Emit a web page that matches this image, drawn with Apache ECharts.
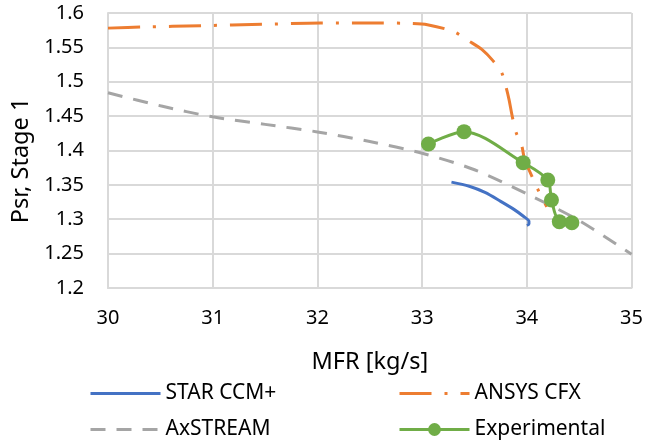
<!DOCTYPE html>
<html>
<head>
<meta charset="utf-8">
<script src="https://cdn.jsdelivr.net/npm/echarts@6/dist/echarts.min.js"></script>
<style>
  html, body { margin: 0; padding: 0; background: #fff; }
  #chart { width: 646px; height: 442px; }
</style>
</head>
<body>
<div id="chart"></div>
<script>
// values
const starX = [33.28, 33.45, 33.6, 33.75, 33.88, 33.97, 34.02, 34.02, 34.0];
const starY = [1.354, 1.348, 1.339, 1.326, 1.314, 1.304, 1.297, 1.293, 1.291];

const cfxX = [30, 30.33, 30.9, 31.47, 32.03, 32.62, 32.9, 33.05, 33.3, 33.45, 33.57, 33.68, 33.76, 33.8, 33.83, 33.86, 33.9, 33.95, 33.98, 34.02, 34.1, 34.19];
const cfxY = [1.578, 1.5796, 1.5816, 1.5835, 1.5855, 1.5855, 1.5848, 1.583, 1.573, 1.559, 1.547, 1.530, 1.513, 1.493, 1.474, 1.45, 1.425, 1.408, 1.385, 1.372, 1.345, 1.318];

const axX = [30, 30.5, 31, 31.5, 32, 32.5, 33, 33.5, 34, 34.5, 35];
const axY = [1.484, 1.465, 1.449, 1.438, 1.427, 1.413, 1.396, 1.372, 1.337, 1.298, 1.249];

const expX = [33.06, 33.40, 33.965, 34.20, 34.235, 34.31, 34.43];
const expY = [1.4095, 1.4274, 1.3823, 1.357, 1.328, 1.2965, 1.295];

const xTicks = [30, 31, 32, 33, 34, 35];
const yTicks = [1.2, 1.25, 1.3, 1.35, 1.4, 1.45, 1.5, 1.55, 1.6];

const pairs = (xs, ys) => xs.map((x, i) => [x, ys[i]]);

const font = 'Noto Sans';
const chart = echarts.init(document.getElementById('chart'));

const legendBase = {
  itemWidth: 70,
  itemHeight: 16,
  itemGap: 0,
  lineStyle: { width: 3 },
  textStyle: { fontFamily: font, fontSize: 21, color: '#000' }
};
// line-only series: hide the marker ECharts puts in the legend icon
const noMark = name => ({ name: name, itemStyle: { opacity: 0 } });

chart.setOption({
  animation: false,
  textStyle: { fontFamily: font },
  grid: { left: 108, right: 13, top: 13, bottom: 154 },
  xAxis: {
    type: 'value',
    min: xTicks[0],
    max: xTicks[xTicks.length - 1],
    interval: 1,
    name: 'MFR [kg/s]',
    nameLocation: 'middle',
    nameGap: 62,
    nameTextStyle: { fontSize: 23.5, color: '#000', fontFamily: font },
    axisLine: { lineStyle: { color: '#d9d9d9', width: 2 } },
    axisTick: { show: false },
    axisLabel: { fontSize: 20, color: '#000', margin: 20, fontFamily: font },
    splitLine: { lineStyle: { color: '#d9d9d9', width: 2 } }
  },
  yAxis: {
    type: 'value',
    min: yTicks[0],
    max: yTicks[yTicks.length - 1],
    interval: 0.05,
    name: 'Psr, Stage 1',
    nameLocation: 'middle',
    nameGap: 67,
    nameTextStyle: { fontSize: 23.5, color: '#000', fontFamily: font, padding: [0, 20, 0, 0] },
    axisLine: { show: true, lineStyle: { color: '#d9d9d9', width: 2 } },
    axisTick: { show: false },
    axisLabel: {
      fontSize: 20, color: '#000', margin: 24, fontFamily: font,
      formatter: v => String(Math.round(v * 100) / 100)
    },
    splitLine: { lineStyle: { color: '#d9d9d9', width: 2 } }
  },
  legend: [
    Object.assign({ data: [noMark('STAR CCM+')], left: 84, top: 378 }, legendBase),
    Object.assign({ data: [noMark('ANSYS CFX')], left: 393, top: 378 }, legendBase),
    Object.assign({ data: [noMark('AxSTREAM')], left: 84, top: 414 }, legendBase),
    Object.assign({ data: ['Experimental'], left: 393, top: 414 }, legendBase)
  ],
  series: [
    {
      name: 'STAR CCM+',
      type: 'line',
      data: pairs(starX, starY),
      smooth: 0.3,
      symbol: 'none',
      color: '#4472c4',
      lineStyle: { width: 3, color: '#4472c4' },
      z: 3
    },
    {
      name: 'ANSYS CFX',
      type: 'line',
      data: pairs(cfxX, cfxY),
      smooth: 0.3,
      symbol: 'none',
      color: '#ed7d31',
      lineStyle: { width: 3, color: '#ed7d31', type: [32, 13, 3, 13] },
      z: 4
    },
    {
      name: 'AxSTREAM',
      type: 'line',
      data: pairs(axX, axY),
      smooth: 0.3,
      symbol: 'none',
      color: '#a5a5a5',
      lineStyle: { width: 3, color: '#a5a5a5', type: [15, 11] },
      z: 2
    },
    {
      name: 'Experimental',
      type: 'line',
      data: pairs(expX, expY),
      smooth: 0.3,
      symbol: 'circle',
      symbolSize: 15,
      color: '#70ad47',
      itemStyle: { color: '#70ad47' },
      lineStyle: { width: 3, color: '#70ad47' },
      z: 5
    }
  ]
});
</script>
</body>
</html>
